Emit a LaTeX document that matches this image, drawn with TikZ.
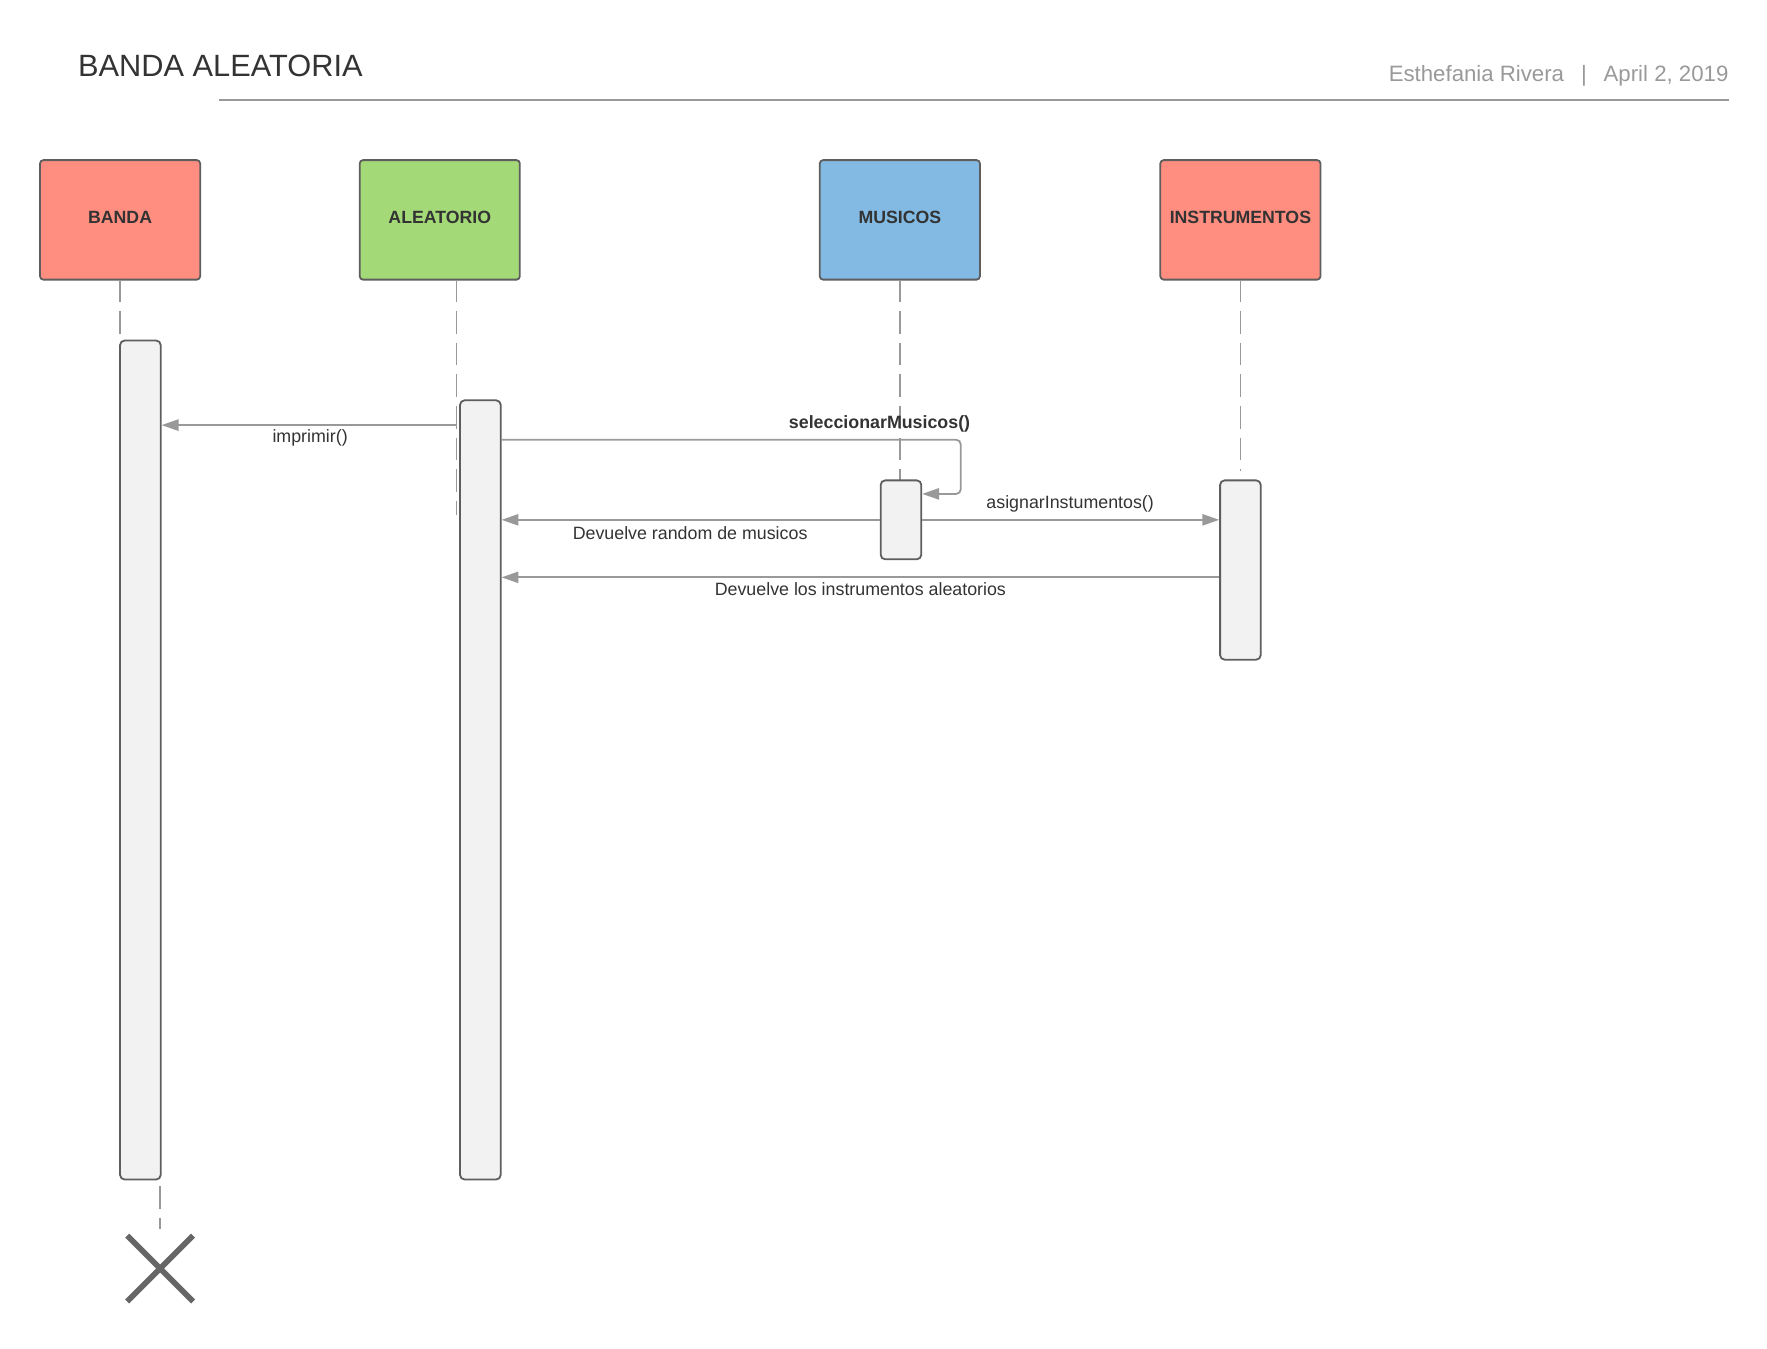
\documentclass[tikz,border=0pt]{standalone}
\usepackage{fontspec}
\setmainfont{Liberation Sans}
\usetikzlibrary{arrows.meta}
\definecolor{salmon}{HTML}{FF8E80}
\definecolor{leaf}{HTML}{A3D977}
\definecolor{sky}{HTML}{83BAE3}
\definecolor{boxline}{HTML}{5E5E5E}
\definecolor{actfill}{HTML}{F2F2F2}
\definecolor{msgline}{HTML}{999999}
\definecolor{txtdark}{HTML}{333333}
\definecolor{txtgrey}{HTML}{999999}
\definecolor{killgrey}{HTML}{666666}
\tikzset{
  headbox/.style={draw=boxline, line width=1.6pt, rounded corners=3pt,
    minimum width=142pt, minimum height=106pt, inner sep=0pt,
    text=txtdark, text depth=5pt,
    font=\fontsize{15.7}{18}\selectfont\bfseries},
  actbox/.style={draw=boxline, line width=1.6pt, rounded corners=4pt,
    fill=actfill, minimum width=36pt, inner sep=0pt},
  lifeline/.style={draw=msgline, line width=1.4pt, dash pattern=on 20pt off 8pt},
  msg/.style={draw=msgline, line width=1.6pt,
    -{Triangle[length=15pt,width=10pt]}},
  msglbl/.style={text=txtdark, inner sep=1pt,
    font=\fontsize{15.8}{18}\selectfont},
  killx/.style={draw=killgrey, line width=5pt},
}
\begin{document}
\begin{tikzpicture}[x=1pt,y=-1pt]
\useasboundingbox (0,0) rectangle (1567,1195.5);

% header
\node[anchor=base west, text=txtdark, inner sep=0pt,
  font=\fontsize{27.3}{30}\selectfont] (title) at (69,67.5) {BANDA ALEATORIA};
\node[anchor=base east, text=txtgrey, inner sep=0pt,
  font=\fontsize{19.7}{22}\selectfont] (author) at (1533,72.5)
  {Esthefania Rivera\hspace{15pt}|\hspace{15pt}April 2, 2019};
\coordinate (ruleL) at (194,88.5);
\coordinate (ruleR) at (1533,88.5);
\draw[draw=msgline, line width=1.8pt] (ruleL) -- (ruleR);

% lifeline heads
\node[headbox, fill=salmon] (hB) at (106.5,195) {BANDA};
\node[headbox, fill=leaf]   (hA) at (390,195)   {ALEATORIO};
\node[headbox, fill=sky]    (hM) at (798,195)   {MUSICOS};
\node[headbox, fill=salmon] (hI) at (1100,195)  {INSTRUMENTOS};

% lifeline coordinates
\coordinate (bTop) at (106.5,248);
\coordinate (bEnd) at (106.5,302);
\coordinate (aTop) at (405,248);
\coordinate (aEnd) at (405,457);
\coordinate (mTop) at (798,248);
\coordinate (mEnd) at (798,426);
\coordinate (iTop) at (1100,248);
\coordinate (iEnd) at (1100,418);

\draw[lifeline] (bTop) -- (bEnd);
\draw[lifeline] (aTop) -- (aEnd);
\draw[lifeline] (mTop) -- (mEnd);
\draw[lifeline] (iTop) -- (iEnd);

% activations
\node[actbox, minimum height=744pt] (actB) at (124.5,674) {};
\node[actbox, minimum height=691pt] (actA) at (426,700.5) {};
\node[actbox, minimum height=70pt]  (actM) at (799,461) {};
\node[actbox, minimum height=159pt] (actI) at (1100,505.5) {};

% destruction
\node[minimum size=58pt, inner sep=0pt] (kill) at (142,1125) {};
\coordinate (bLow) at (142,1052);
\draw[lifeline] (bLow) -- ([yshift=6pt]kill.north);
\draw[killx] (kill.north west) -- (kill.south east);
\draw[killx] (kill.north east) -- (kill.south west);

% messages
\coordinate (m1) at (405,377);
\draw[msg] (m1) -- (m1 -| actB.east);
\node[msglbl] (lImp) at (275,388.5) {imprimir()};

\coordinate (s1) at (0,390);
\coordinate (s2) at (852,438);
\draw[msg, rounded corners=4pt] (actA.east |- s1) -- (s2 |- s1) -- (s2) -- (actM.east |- s2);
\node[msglbl, font=\fontsize{15.8}{18}\selectfont\bfseries] (lSel) at (780,375.5) {seleccionarMusicos()};

\draw[msg] (actM.east) -- (actI.west |- actM.east);
\node[msglbl] (lAsig) at (949,446.5) {asignarInstumentos()};

\draw[msg] (actM.west) -- (actA.east |- actM.west);
\node[msglbl] (lRand) at (612,472.5) {Devuelve random de musicos};

\coordinate (r2) at (0,512);
\draw[msg] (actI.west |- r2) -- (actA.east |- r2);
\node[msglbl] (lInst) at (763,522.5) {Devuelve los instrumentos aleatorios};
\end{tikzpicture}
\end{document}
